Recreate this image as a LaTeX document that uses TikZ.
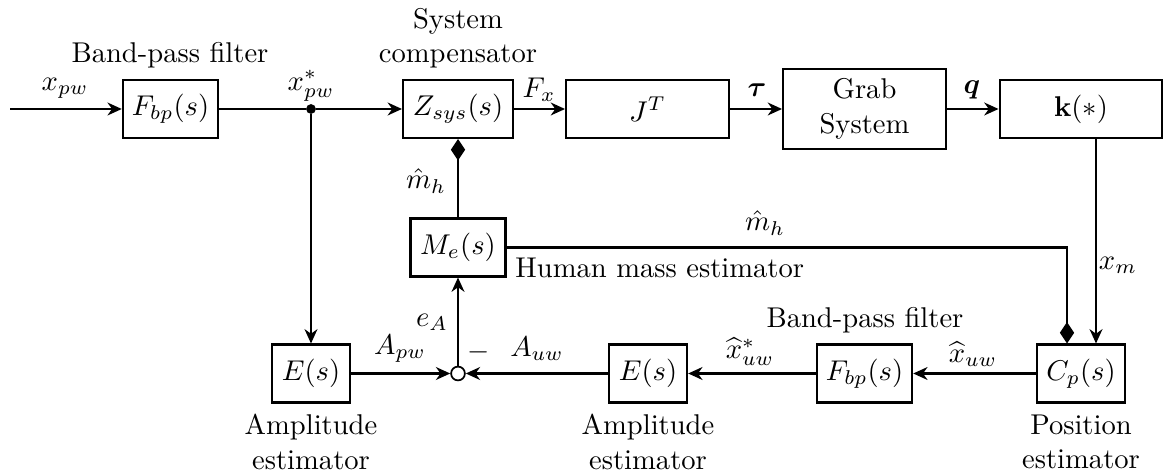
\documentclass[tikz,border=0pt]{standalone}
\usepackage{amsmath,amssymb,bm}
\usepackage{tikz}
\usetikzlibrary{arrows.meta,calc,positioning}
\tikzset{
  block/.style={draw,line width=.8pt,minimum height=.71cm,inner sep=2pt},
  link/.style={-{Stealth[length=5pt,width=4.5pt,inset=1.6pt]},line width=.8pt},
  diam/.style={-{Diamond[length=7.5pt,width=5pt]},line width=.8pt},
  note/.style={align=center,inner sep=1pt},
  sig/.style={inner sep=1pt}
}
\begin{document}
\begin{tikzpicture}[x=.0123cm,y=-.0123cm]
  \useasboundingbox (0,0) rectangle (1171,472);
  % forward path
  \node[block,minimum width=1.17cm] (fbp) at (170.5,109) {$F_{bp}(s)$};
  \node[block,minimum width=1.35cm] (zsys) at (458,109) {$Z_{sys}(s)$};
  \node[block,minimum width=2.0cm] (jt) at (647.5,109) {$J^T$};
  \node[block,minimum width=2.0cm,minimum height=.98cm,note] (grab) at (864.5,109) {Grab\\System};
  \node[block,minimum width=2.0cm] (kf) at (1081,109) {$\mathbf{k}(*)$};
  % feedback path
  \node[block,minimum width=1.17cm] (me) at (458,247.5) {$M_e(s)$};
  \node[block,minimum width=.96cm] (el) at (311,373.5) {$E(s)$};
  \node[block,minimum width=.96cm] (er) at (648,373.5) {$E(s)$};
  \node[block,minimum width=1.17cm] (fbq) at (864.5,373.5) {$F_{bp}(s)$};
  \node[block,minimum width=1.08cm] (cp) at (1081,373.5) {$C_p(s)$};
  \node[draw,circle,line width=.6pt,fill=white,minimum size=.17cm,inner sep=0pt] (sum) at (458,373.5) {};
  \node[circle,fill,inner sep=0pt,minimum size=.12cm] (junc) at (311,109) {};
  \coordinate (in) at (10,109);

  \draw[link] (in) -- (fbp);
  \draw[line width=.8pt] (fbp) -- (junc);
  \draw[link] (junc) -- (zsys);
  \draw[link] (junc) -- (el);
  \draw[link] (zsys) -- (jt);
  \draw[link] (jt) -- (grab);
  \draw[link] (grab) -- (kf);
  \draw[link] ($(kf.south)+(15,0)$) -- ($(cp.north)+(15,0)$);
  \draw[diam] (me.east) -| ($(cp.north)+(-14,0)$);
  \draw[diam] (me) -- (zsys);
  \draw[link] (cp) -- (fbq);
  \draw[link] (fbq) -- (er);
  \draw[link] (er) -- (sum);
  \draw[link] (el) -- (sum);
  \draw[link] (sum) -- (me);

  % signal labels
  \node[sig] (lxpw) at (65,88) {$x_{pw}$};
  \node[sig] (lxps) at (311,86) {$x^*_{pw}$};
  \node[sig] (lfx) at (539,90) {$F_x$};
  \node[sig] (ltau) at (757,90) {$\bm{\tau}$};
  \node[sig] (lq) at (972,90) {$\bm{q}$};
  \node[sig] (lmh) at (426,181) {$\hat{m}_h$};
  \node[sig] (lmh2) at (765,223) {$\hat{m}_h$};
  \node[sig] (lxm) at (1118,265) {$x_m$};
  \node[sig] (lea) at (432,322) {$e_A$};
  \node[sig] (lapw) at (400,349) {$A_{pw}$};
  \node[sig] (lmin) at (479,352) {$-$};
  \node[sig] (lauw) at (537,349) {$A_{uw}$};
  \node[sig] (lxus) at (750,352) {$\widehat{x}^*_{uw}$};
  \node[sig] (lxu) at (973,354) {$\widehat{x}_{uw}$};

  % block names
  \node[note] (nbp) at (170,55) {Band-pass filter};
  \node[note] (nsys) at (458,38) {System\\compensator};
  \node[note,anchor=west] (nme) at (512,268) {Human mass estimator};
  \node[note] (nbq) at (865,320) {Band-pass filter};
  \node[note] (nel) at (311,442) {Amplitude\\estimator};
  \node[note] (ner) at (648,442) {Amplitude\\estimator};
  \node[note] (ncp) at (1081,442) {Position\\estimator};
\end{tikzpicture}
\end{document}
